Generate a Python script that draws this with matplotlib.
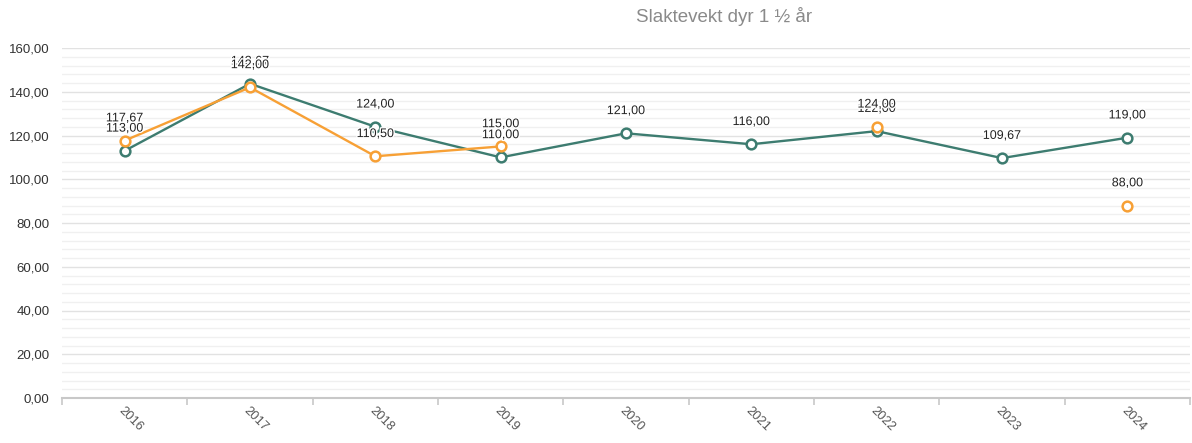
import numpy as np
import matplotlib
matplotlib.use("Agg")
import matplotlib.pyplot as plt
import matplotlib.patheffects as pe
from matplotlib.ticker import MultipleLocator, FixedLocator

plt.rcParams['font.family'] = ['Liberation Sans', 'DejaVu Sans']

title = "Slaktevekt dyr 1 ½ år"
years = ["2016", "2017", "2018", "2019", "2020", "2021", "2022", "2023", "2024"]
series_teal = [113.00, 143.67, 124.00, 110.00, 121.00, 116.00, 122.00, 109.67, 119.00]
series_orange = [117.67, 142.00, 110.50, 115.00, np.nan, np.nan, 124.00, np.nan, 88.00]

teal = "#3d7c70"
orange = "#f7a035"

fig = plt.figure(figsize=(11.92, 4.43), dpi=100)
ax = fig.add_axes([62/1192, 1-398/443, (1190-62)/1192, (398-48)/443])

x = np.arange(len(years))
ax.set_xlim(-0.5, len(years)-0.5)
ax.set_ylim(0, 160)

ax.yaxis.set_major_locator(MultipleLocator(20))
ax.yaxis.set_minor_locator(MultipleLocator(4))
ax.grid(axis='y', which='major', color='#e2e2e2', linewidth=1.0, zorder=0)
ax.grid(axis='y', which='minor', color='#f0f0f0', linewidth=1.0, zorder=0)
ax.set_axisbelow(True)

for s in ['top', 'right', 'left']:
    ax.spines[s].set_visible(False)
ax.spines['bottom'].set_color('#c8c8c8')
ax.spines['bottom'].set_linewidth(1.5)

ax.yaxis.set_major_formatter(plt.FuncFormatter(lambda v, p: f"{v:.2f}".replace('.', ',')))
ax.tick_params(axis='y', which='both', length=0, pad=9, labelsize=9.5, labelcolor='#333333')

ax.xaxis.set_major_locator(FixedLocator(x))
ax.xaxis.set_minor_locator(FixedLocator(np.arange(len(years)+1)-0.5))
ax.set_xticklabels([])
ax.tick_params(axis='x', which='major', length=0)
ax.tick_params(axis='x', which='minor', length=5, color='#c8c8c8', width=1.2)
for xi, yr in zip(x, years):
    ax.annotate(yr, xy=(xi, 0), xycoords=('data', 'axes fraction'),
                xytext=(-3, -8), textcoords='offset points',
                rotation=-45, rotation_mode='anchor', ha='left', va='center',
                fontsize=9.3, color='#555555')

ax.plot(x, series_teal, color=teal, linewidth=1.7, marker='o', markersize=7,
        markerfacecolor='white', markeredgecolor=teal, markeredgewidth=1.8, zorder=3)
ax.plot(x, series_orange, color=orange, linewidth=1.7, marker='o', markersize=7,
        markerfacecolor='white', markeredgecolor=orange, markeredgewidth=1.8, zorder=4)

outline = [pe.withStroke(linewidth=2, foreground='white')]
for series, z in ((series_teal, 5), (series_orange, 6)):
    for xi, v in zip(x, series):
        if np.isnan(v):
            continue
        ax.annotate(f"{v:.2f}".replace('.', ','), xy=(xi, v), xytext=(0, 16),
                    textcoords='offset points', ha='center', va='center',
                    fontsize=9, color='#222222', zorder=z, path_effects=outline,
                    annotation_clip=False)

fig.text(724/1192, 1-17/443, title, ha='center', va='center', fontsize=13.5, color='#8a8a8a')

fig.savefig("out.png", dpi=100)
